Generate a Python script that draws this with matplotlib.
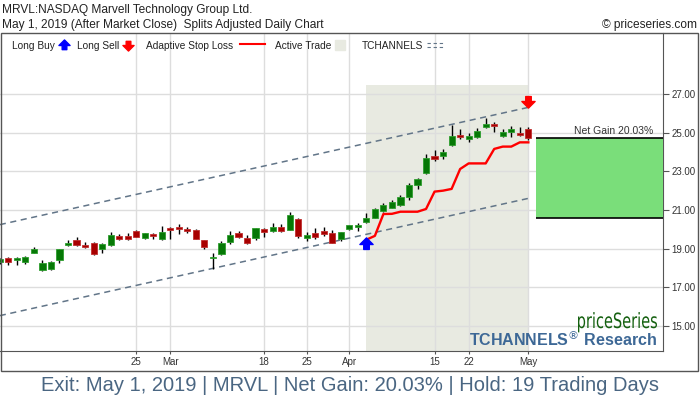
import matplotlib
matplotlib.use('Agg')
import numpy as np
import matplotlib.pyplot as plt
import matplotlib.transforms as mtransforms
from matplotlib.path import Path
from matplotlib.patches import Rectangle, PathPatch
from matplotlib.textpath import TextPath
from matplotlib.font_manager import FontProperties

plt.rcParams['font.family'] = ['Liberation Sans', 'DejaVu Sans']

# daily candles, Jan 31 2019 .. May 1 2019 (index = trading day)
opens = [18.30, 18.50, 18.40, 18.29, 18.78, 17.90, 17.95, 18.42, 19.17, 19.46,
         19.17, 19.31, 18.96, 19.20, 19.67, 19.66, 19.93, 19.55, 19.74, 19.48,
         20.05, 20.10, 20.00, 19.97, 19.45, 18.52, 18.71, 19.33, 19.81, 19.57,
         19.53, 20.02, 19.90, 20.14, 19.97, 20.55, 19.55, 19.83, 19.93, 19.83,
         19.48, 20.03, 20.12, 20.40, 20.59, 20.93, 21.10, 21.26, 21.65, 22.29,
         22.92, 23.81, 23.81, 24.38, 24.88, 24.67, 24.79, 25.28, 25.43, 24.84,
         25.02, 25.00, 25.17]
highs = [18.50, 18.55, 18.56, 18.64, 19.07, 18.41, 18.38, 19.00, 19.46, 19.60,
         19.36, 19.33, 19.31, 19.88, 19.75, 19.81, 19.98, 19.83, 19.80, 20.19,
         20.10, 20.28, 20.14, 20.00, 19.47, 18.76, 19.41, 19.93, 19.90, 19.71,
         20.09, 20.05, 20.33, 20.27, 20.90, 20.57, 19.84, 20.05, 20.10, 19.98,
         19.86, 20.24, 20.31, 20.84, 21.12, 21.35, 21.50, 21.75, 22.40, 22.65,
         23.90, 24.10, 24.16, 25.40, 25.19, 24.98, 25.22, 25.74, 25.55, 25.19,
         25.33, 25.28, 25.28]
lows = [18.20, 18.17, 18.16, 18.20, 18.75, 17.86, 17.90, 18.26, 19.15, 19.12,
        19.01, 18.67, 18.79, 19.14, 19.43, 19.45, 19.58, 19.50, 19.48, 19.46,
        19.48, 19.76, 19.83, 19.48, 18.98, 17.95, 18.69, 19.24, 19.53, 19.26,
        19.46, 19.59, 19.88, 19.86, 19.95, 19.55, 19.41, 19.52, 19.67, 19.29,
        19.41, 19.95, 19.91, 20.30, 20.57, 20.90, 21.08, 21.20, 21.53, 22.09,
        22.88, 23.54, 23.64, 24.30, 24.67, 24.53, 24.71, 25.22, 25.02, 24.76,
        24.79, 24.84, 24.62]
closes = [18.45, 18.33, 18.53, 18.59, 18.96, 18.26, 18.33, 18.98, 19.31, 19.19,
          19.10, 18.73, 19.26, 19.71, 19.51, 19.50, 19.60, 19.81, 19.64, 19.88,
          19.95, 20.00, 19.93, 19.50, 19.07, 18.59, 19.31, 19.71, 19.59, 19.28,
          20.07, 19.84, 20.14, 19.90, 20.72, 19.66, 19.71, 19.59, 19.76, 19.31,
          19.84, 20.21, 20.21, 20.60, 21.03, 21.28, 21.42, 21.69, 22.29, 22.62,
          23.69, 23.64, 24.02, 24.83, 24.79, 24.83, 25.10, 25.45, 25.36, 25.05,
          25.17, 24.86, 24.73]

# adaptive stop loss during the trade (entry day .. exit day)
stop_loss = [19.46, 19.66, 20.79, 20.80, 20.91, 20.91, 20.91, 21.05, 21.95, 22.00,
             22.09, 23.12, 23.41, 23.41, 23.41, 24.16, 24.28, 24.28, 24.50, 24.50]

entry_idx, exit_idx = 43, 62
entry_price, exit_price = 20.60, 24.73
buy_mark, sell_mark = 19.25, 26.62
shade_top = 27.45

# channel lines (start / end values)
chan_x = [0, 62]
chan_upper = [20.24, 26.31]
chan_lower = [15.53, 21.60]

tick_idx = [16, 20, 31, 36, 41, 51, 55, 62]
tick_lab = ['25', 'Mar', '18', '25', 'Apr', '15', '22', 'May']
y_ticks = [15, 17, 19, 21, 23, 25, 27]

# arrow markers
up_arrow = Path([(-1, 0), (0, 1), (1, 0), (0.42, 0), (0.42, -0.75), (-0.42, -0.75),
                 (-0.42, 0), (-1, 0)],
                [Path.MOVETO] + [Path.LINETO] * 6 + [Path.CLOSEPOLY])
down_arrow = Path([(x, -y) for x, y in up_arrow.vertices], up_arrow.codes)

fig = plt.figure(figsize=(7, 4), dpi=100)
ax = fig.add_axes([0, 49 / 400, 663 / 700, 318 / 400])
ax.set_xlim(0.02, 77.8)
ax.set_ylim(13.70, 30.16)

# grid
for y in y_ticks:
    ax.axhline(y, color='#dddddd', lw=1, zorder=1)
for x in tick_idx:
    ax.axvline(x, color='#dddddd', lw=1, zorder=1)

# active trade shading
ax.fill_between([entry_idx, exit_idx], 13.70, shade_top, color='#e8eae1', lw=0, zorder=0.5)

# channels
ax.plot(chan_x, chan_upper, color='#627588', lw=1.1, ls=(0, (4, 3)), zorder=2)
ax.plot(chan_x, chan_lower, color='#627588', lw=1.1, ls=(0, (4, 3)), zorder=2)

# candles
idx = np.arange(len(opens))
o = np.array(opens); c = np.array(closes)
up = c >= o
ax.vlines(idx, lows, highs, color='black', lw=1, zorder=3)
body_lo = np.minimum(o, c)
body_h = np.maximum(np.abs(c - o), 0.05)
ax.bar(idx[up], body_h[up], bottom=body_lo[up], width=0.72,
       color='#067806', edgecolor='#2e9e2e', lw=0.6, zorder=4)
ax.bar(idx[~up], body_h[~up], bottom=body_lo[~up], width=0.72,
       color='#a80000', edgecolor='#c03030', lw=0.6, zorder=4)

# stop loss
ax.plot(np.arange(entry_idx, exit_idx + 1), stop_loss, color='#ff0000', lw=1.7, zorder=5)

# buy / sell arrows
ax.plot(entry_idx, buy_mark, marker=up_arrow, ms=9.5, color='#0000ff', ls='none', zorder=6)
ax.plot(exit_idx, sell_mark, marker=down_arrow, ms=9.5, color='#ff0000', ls='none', zorder=6)

# net gain box
ax.fill_between([exit_idx + 0.9, 77.8], entry_price, exit_price, color='#7ade7a', lw=0, zorder=3)
ax.hlines([entry_price, exit_price], exit_idx + 0.9, 77.8, color='black', lw=1.2, zorder=4)
ax.text(76.7, exit_price + 0.22, 'Net Gain 20.03%', ha='right', va='baseline',
        fontsize=7.5, color='#333333', zorder=6)

# axes styling
for s in ['top', 'left']:
    ax.spines[s].set_visible(False)
for s in ['right', 'bottom']:
    ax.spines[s].set_color('#555555')
ax.yaxis.tick_right()
ax.set_yticks(y_ticks)
ax.set_yticklabels(['%.2f' % v for v in y_ticks])
ax.set_xticks(tick_idx)
ax.set_xticklabels(tick_lab)
ax.tick_params(axis='y', length=4, width=0.8, color='#555555', labelsize=7, labelcolor='#333333', pad=2)
ax.tick_params(axis='x', length=2, width=0.8, color='#555555', labelsize=7, labelcolor='#333333', pad=2)

# overlay in pixel coords for legend / titles
lg = fig.add_axes([0, 0, 1, 1], zorder=10)
lg.set_xlim(0, 700)
lg.set_ylim(400, 0)
lg.axis('off')
lg.patch.set_alpha(0)

lg.add_patch(Rectangle((1, 33), 697, 338, fill=False, ec='#555555', lw=1))

lg.text(2, 13, 'MRVL:NASDAQ Marvell Technology Group Ltd.', fontsize=8.6, color='#222222', va='baseline')
lg.text(2, 28, 'May 1, 2019 (After Market Close)  Splits Adjusted Daily Chart', fontsize=8.6,
        color='#222222', va='baseline')
lg.text(697, 28, '\u00a9 priceseries.com', fontsize=8.6, color='#222222', va='baseline', ha='right')

ly = 49
lg.text(12, ly, 'Long Buy', fontsize=7.3, color='#222222', va='baseline')
lg.plot(64, 45, marker=up_arrow, ms=8, color='#0000ff')
lg.text(77, ly, 'Long Sell', fontsize=7.3, color='#222222', va='baseline')
lg.plot(128, 45, marker=down_arrow, ms=8, color='#ff0000')
lg.text(146, ly, 'Adaptive Stop Loss', fontsize=7.3, color='#222222', va='baseline')
lg.plot([240, 265], [44, 44], color='#ff0000', lw=1.5)
lg.text(275, ly, 'Active Trade', fontsize=7.3, color='#222222', va='baseline')
lg.add_patch(Rectangle((335, 40), 10, 10, color='#e8eae1'))
lg.text(362, ly, 'TCHANNELS', fontsize=7.3, color='#222222', va='baseline')
lg.plot([427, 444], [42.5, 42.5], color='#627588', lw=0.8, ls=(0, (3, 2.5)))
lg.plot([427, 444], [46.5, 46.5], color='#627588', lw=0.8, ls=(0, (3, 2.5)))

# watermark: narrow "priceSeries" drawn as a horizontally squeezed text path
wm = TextPath((0, 0), 'priceSeries', size=21, prop=FontProperties(family='DejaVu Sans'))
ext = wm.get_extents()
sx = 79 / ext.width
wm_tr = mtransforms.Affine2D().translate(-ext.x1, 0).scale(sx, -1).translate(657, 328)
lg.add_patch(PathPatch(wm_tr.transform_path(wm), color='#14600f', lw=0))
lg.text(657, 346, r'TCHANNELS$^{\circledR}$ Research', fontsize=11.5, fontweight='bold',
        color='#3d6896', ha='right', va='baseline')

# footer
lg.text(350, 391, 'Exit: May 1, 2019 | MRVL | Net Gain: 20.03% | Hold: 19 Trading Days',
        fontsize=14.5, color='#4a6682', ha='center', va='baseline')

fig.savefig('out.png', dpi=100)
